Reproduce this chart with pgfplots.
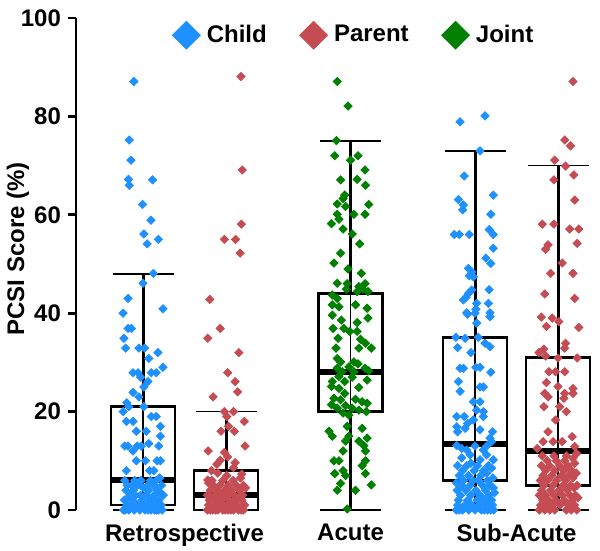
\documentclass[border=0pt]{standalone}
\usepackage{pgfplots}
\pgfplotsset{compat=1.18}
\usepgfplotslibrary{statistics}
\usepackage{fontspec}
\setmainfont{Liberation Sans}
\definecolor{childBlue}{RGB}{30,144,255}
\definecolor{parentRed}{RGB}{198,76,84}
\definecolor{jointGreen}{RGB}{0,128,0}

\pgfplotsset{
  ptsgrp/.style={only marks, mark=square*, mark size=1.45pt,
    mark options={rotate=45, draw=#1, fill=#1}, color=#1},
  boxst/.style={black, forget plot, solid,
    boxplot/draw direction=y,
    boxplot/box extend=1.54, boxplot/whisker extend=0,
    boxplot/every box/.style={line width=1.3pt},
    boxplot/every median/.style={line width=3pt},
    boxplot/every whisker/.style={line width=1.5pt}},
  whiskcap/.style={black, forget plot, line width=0.9pt, no marks},
  midline/.style={black, forget plot, line width=0.7pt, no marks},
}

\begin{document}
\begin{tikzpicture}
\useasboundingbox (-38pt,-20.5pt) rectangle (262pt,255pt);
\begin{axis}[
  at={(0,0)}, anchor=south west,
  scale only axis, width=259.7pt, height=246pt,
  xmin=-1.6145, xmax=10.9, ymin=0, ymax=100,
  clip=false,
  axis x line=bottom, axis y line=left,
  x axis line style={draw=none},
  y axis line style={-, line width=1.4pt},
  ytick={0,20,40,60,80,100},
  xtick={1,5,9}, xticklabels={Retrospective,Acute,Sub-Acute},
  x tick style={draw=none},
  y tick style={line width=1.4pt, black},
  tick align=outside, major tick length=4pt,
  /pgf/number format/assume math mode=true,
  tick label style={font=\fontsize{12}{14}\selectfont\bfseries},
  x tick label style={yshift=0.5pt},
  ylabel={PCSI Score (\%)},
  every axis y label/.style={at={(rel axis cs:0,0.531)}, xshift=-29pt, rotate=90, anchor=center,
    font=\fontsize{12}{14}\selectfont\bfseries},
  legend style={draw=none, fill=none, legend columns=3, at={(0.537,0.965)}, anchor=center,
    font=\fontsize{12}{14}\selectfont\bfseries,
    /tikz/every even column/.append style={column sep=14.5pt}},
  legend image code/.code={\draw[#1, mark size=4.9pt] plot coordinates {(0pt,0pt)};
    \path (-5pt,0pt) (8pt,0pt);},
]

% boxes
\addplot[boxst, boxplot prepared={draw position=0, lower whisker=0, lower quartile=1, median=6, upper quartile=21, upper whisker=48}] coordinates {};
\addplot[boxst, boxplot prepared={draw position=2, lower whisker=0, lower quartile=0, median=3, upper quartile=8, upper whisker=20}] coordinates {};
\addplot[boxst, boxplot prepared={draw position=5, lower whisker=0, lower quartile=20, median=28, upper quartile=44, upper whisker=75}] coordinates {};
\addplot[boxst, boxplot prepared={draw position=8, lower whisker=0, lower quartile=6, median=13.5, upper quartile=35, upper whisker=73}] coordinates {};
\addplot[boxst, boxplot prepared={draw position=10, lower whisker=0, lower quartile=5, median=12, upper quartile=31, upper whisker=70}] coordinates {};
% whisker caps
\addplot[whiskcap] coordinates {(-0.735,48) (0.735,48)};
\addplot[whiskcap] coordinates {(-0.735,0) (0.735,0)};
\addplot[whiskcap] coordinates {(1.265,20) (2.735,20)};
\addplot[whiskcap] coordinates {(1.265,0) (2.735,0)};
\addplot[whiskcap] coordinates {(4.265,75) (5.735,75)};
\addplot[whiskcap] coordinates {(4.265,0) (5.735,0)};
\addplot[whiskcap] coordinates {(7.265,73) (8.735,73)};
\addplot[whiskcap] coordinates {(7.265,0) (8.735,0)};
\addplot[whiskcap] coordinates {(9.265,70) (10.735,70)};
\addplot[whiskcap] coordinates {(9.265,0) (10.735,0)};
% line through boxes
\addplot[midline] coordinates {(0,1) (0,21)};
\addplot[midline] coordinates {(2,0) (2,8)};
\addplot[midline] coordinates {(5,20) (5,44)};
\addplot[midline] coordinates {(8,6) (8,35)};
\addplot[midline] coordinates {(10,5) (10,31)};

% Retrospective, child
\addplot[ptsgrp=childBlue] table {
x y
-0.22 87.1
-0.33 75.2
-0.29 71.1
-0.35 67.2
-0.33 66
0.23 67.1
-0.01 62.1
0.19 58.9
0.02 56.1
0.37 55
0.10 54.1
0.25 48.1
0 46.1
-0.36 43
0.48 40.9
-0.48 40
-0.36 36.9
-0.28 36.9
-0.46 34.9
-0.42 32.9
-0.10 32.9
0.04 32.9
0.14 30.8
0.36 32
0.48 29
-0.24 27.9
-0.12 27.9
-0.06 27
0.20 27.9
0.32 27.9
0.12 26.1
0.02 25
-0.24 23.9
-0.10 23
-0.39 21.8
-0.34 21
-0.48 20
0.02 21
-0.40 18
-0.24 18
0.20 19
0.32 19
0.42 17
-0.16 16
0.08 16
0.42 15
-0.44 13
-0.36 13
-0.24 12
-0.14 13
-0.04 13
0.14 13.5
0.38 13
-0.16 10
0.06 10
0.34 10
0.42 10
-0.40 8
0.16 8
0.26 8
-0.43 0
0.12 0
0.37 0
-0.21 0
0.05 0
0.46 0
-0.34 0
0.28 0
-0.08 0
0.19 0
-0.47 0
0.33 0
-0.15 1
0.41 1
0.02 1
-0.29 1
0.24 1
-0.39 1
0.09 1
0.44 1
-0.11 1
0.31 2
-0.25 2
0.16 2
-0.45 2
0.38 2
-0.03 2
0.22 2
-0.36 2.5
0.49 3
-0.18 3
0.07 3
-0.31 3
0.27 3
-0.06 3
0.42 3.5
-0.23 4
0.14 4
-0.41 4
0.35 4
0.01 4.5
-0.13 5
0.26 5
-0.38 5
0.11 5
0.45 5
-0.27 5
0.18 6
-0.44 6
0.32 6
-0.05 6
-0.20 6
0.40 6.5
};
\addlegendentry{Child}

% Retrospective, parent
\addplot[ptsgrp=parentRed] table {
x y
2.36 88.1
2.39 69.1
2.37 58.1
1.96 55
2.23 55
2.34 52.2
1.61 42.8
1.86 36.9
1.56 34.9
2.31 32
2.04 27.9
2.22 26.1
2.28 24
1.69 23
1.96 20
2.18 20
2.02 19
2.44 18
2.06 17
1.88 16
2.20 16
2.46 13
1.57 12
1.96 11.7
1.86 10.1
2.04 10.8
2.22 9.6
1.78 9.3
2.18 8.6
1.65 8
2.38 7.3
1.56 6.1
1.55 0
1.68 0
1.80 0
1.92 0
2.05 0
2.18 0
2.30 0
2.42 0
1.62 0
1.75 0
1.98 0
2.12 0
2.36 0
1.58 1
1.71 1
1.86 1
2.02 1
2.15 1
2.27 1
2.45 1
1.95 1
1.60 2
1.78 2
1.90 2
2.08 2
2.22 2
2.38 2
1.67 2.5
2.30 2.5
1.55 3
1.74 3
1.88 3
2.00 3
2.20 3
2.40 3
2.10 3.5
1.62 4
1.80 4
1.96 4
2.14 4
2.32 4
2.47 4.5
1.70 5
1.85 5
2.05 5
2.25 5
2.42 5
1.58 5.5
1.66 6
1.92 6
2.17 6
2.35 6.5
2.02 7
1.80 7.5
};
\addlegendentry{Parent}

% Acute, joint
\addplot[ptsgrp=jointGreen] table {
x y
4.68 87.1
4.94 82.1
4.66 75.1
4.62 72
5.00 71.1
5.18 72
5.35 69.1
4.76 67.1
5.16 67.2
5.36 66
4.86 64.0
4.82 63.3
4.68 62.2
4.88 61.7
5.44 62.1
4.68 60.1
5.08 60.1
5.35 60.1
4.72 59.1
4.54 58.2
4.82 57.1
5.04 56.1
5.22 54.1
4.76 52.2
4.60 50.2
4.94 49
5.26 48.1
4.68 46.1
4.92 46
5.20 45.4
5.35 46
5.30 44.9
4.90 44.9
5.16 44.4
5.42 44.4
4.56 43.7
4.68 43
4.56 41.7
4.72 41.3
5.12 41.7
5.40 41
4.56 39.6
5.42 39
4.78 38.6
5.16 38.1
4.58 36.9
4.84 36.9
4.98 36.3
5.16 36.3
4.70 34.9
5.24 34.7
5.36 33.9
4.65 32.9
5.20 32.9
5.50 32.9
4.68 30.8
4.76 30.1
5.08 30.1
5.18 29.7
4.96 29.1
4.68 28.8
5.35 28.8
4.80 28.1
5.08 28.1
5.44 28.3
4.72 27.1
5.04 27
4.56 26.1
4.86 26.1
5.40 26.4
4.54 25.1
4.72 24.7
5.20 24.9
4.86 23.7
4.60 22.7
4.76 22.4
5.12 22.5
5.28 22
5.40 21.7
4.54 21.4
4.88 21.2
4.68 20.7
5.04 20.7
5.20 20.3
4.82 19.7
5.38 20
4.96 19.3
4.92 17
4.48 16
4.56 15
5.28 16.6
4.96 15
5.20 14
5.40 14.6
4.88 14
5.32 13.1
4.82 12
5.36 12
4.60 10
4.72 10
5.36 10
4.82 8
5.28 9
4.62 7.4
4.88 7
5.36 7.4
4.76 5.4
5.50 5.1
4.68 4
5.12 4
4.92 0.2
};
\addlegendentry{Joint}

% Sub-Acute, child
\addplot[ptsgrp=childBlue, forget plot] table {
x y
7.64 78.9
8.24 80.1
8.12 73
7.74 67.9
7.60 63.1
8.44 64
7.72 62
7.70 61
8.38 60.1
7.50 56
7.62 56
7.86 56
8.34 57
8.44 56
8.44 53.2
8.26 51.2
8.38 50.1
7.84 49.1
7.92 48.4
7.86 47.6
7.96 47.4
7.92 44.7
7.84 44
7.78 43.2
7.72 42.7
8.34 44.8
8.04 42
8.32 42
7.80 40.1
8.02 40.8
8.36 40.1
8.36 39.3
7.82 39.8
8.00 40
8.04 38
7.54 35.1
7.76 34.9
8.08 35.1
8.24 33.9
8.36 33.2
7.58 33
7.90 32
7.64 28.8
7.72 28.8
8.02 29
8.12 29
8.38 28
7.60 26.1
8.12 25
8.20 25
7.64 24.1
7.96 22
8.12 22
8.04 20.3
8.20 20
7.56 19
7.74 19
7.82 17.6
7.56 16.9
8.20 19
7.96 18.3
7.76 16.6
8.12 16.3
7.58 15.9
8.42 15.9
8.36 14.6
8.40 13.9
8.00 13
7.56 13.1
8.28 13
7.68 12.5
7.80 12.2
8.20 12.2
7.88 11.2
8.28 11.2
7.68 10.6
8.12 10.2
8.44 10.2
7.55 0
7.70 0
7.85 0
8.00 0
8.15 0
8.30 0
8.45 0
7.62 0
8.22 0
8.38 0
7.58 1
7.75 1
7.92 1
8.10 1
8.27 1
8.42 1
8.35 1.5
7.60 2
7.82 2
8.05 2
8.20 2
8.40 2
8.30 2.5
7.65 3
7.90 3
8.12 3
8.33 3
8.47 3.5
7.57 4
7.78 4
8.02 4
8.25 4
8.44 4.5
7.68 5
7.88 5
8.18 5
8.36 5
7.55 5.5
7.72 6
7.95 6
8.08 6
8.30 6
8.43 6.5
7.62 7
7.84 7
8.14 7
8.28 7.5
7.70 8
7.98 8
8.20 8
8.40 8.5
7.58 9
7.80 9
8.06 9
8.32 9
7.90 9.5
};

% Sub-Acute, parent
\addplot[ptsgrp=parentRed, forget plot] table {
x y
10.36 87.1
10.16 75.2
10.30 74
9.92 71.1
10.18 69.9
10.38 68.1
9.90 67.1
10.40 63
9.62 58.1
9.90 58.1
10.28 57.1
10.50 57.1
10.46 54.2
9.76 53.9
9.70 53
10.10 50.2
9.82 48.1
10.36 48.1
9.68 43.9
10.40 43
9.60 39.2
9.86 39
10.02 38.3
9.72 37.3
10.50 37.1
10.18 33.9
10.16 32.9
9.54 32
9.66 32.7
9.70 31.3
10.00 30.9
10.46 30.9
9.78 28.1
9.94 28.1
10.16 28.1
9.72 25.9
10.00 25.1
10.36 24.7
9.68 23.7
9.76 23
10.16 23.7
10.14 22.7
10.36 23.7
9.66 21
10.04 21
10.20 20
9.94 18.3
9.76 15.9
10.34 14.9
9.64 13.9
9.88 13.9
10.10 13.9
10.40 12.9
9.50 12.5
9.55 0
9.68 0
9.80 0
9.92 0
10.20 0
10.32 0
10.45 0
9.60 0.5
9.58 1
9.72 1
9.86 1
10.05 1
10.25 1
10.40 1
9.63 2
9.77 2
9.95 2
10.15 2
10.35 2
10.48 2.5
9.55 3
9.70 3
9.90 3
10.10 3
10.28 3
10.42 3
9.60 4
9.82 4
10.02 4
10.22 4
10.38 4.5
9.66 5
9.88 5
10.12 5
10.30 5
10.46 5
9.57 6
9.75 6
9.97 6
10.18 6
10.36 6.5
9.64 7
9.85 7
10.08 7
10.26 7
10.44 7.5
9.70 8
9.92 8
10.14 8
10.33 8
9.60 9
9.80 9
10.04 9
10.24 9
10.40 9.5
9.74 10
9.96 10
10.16 10
10.36 10.5
9.62 11
9.90 11
10.20 11
10.45 11.5
};
\end{axis}
\end{tikzpicture}
\end{document}
